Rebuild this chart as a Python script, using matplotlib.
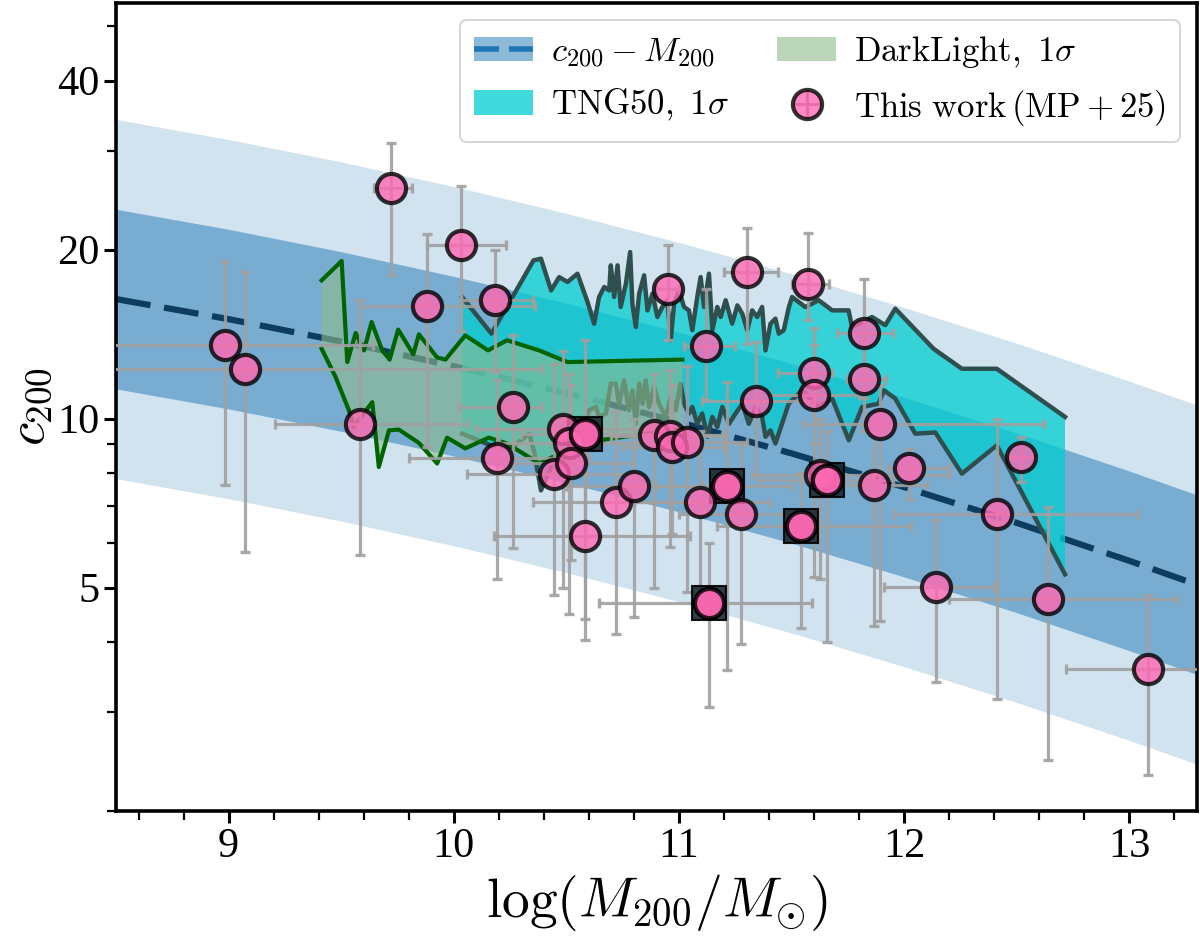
import numpy as np
import matplotlib
matplotlib.use('Agg')
import matplotlib.pyplot as plt
from matplotlib.patches import Patch
from matplotlib.lines import Line2D
from matplotlib.ticker import FixedLocator, FixedFormatter, NullFormatter

plt.rcParams['font.family'] = 'serif'
plt.rcParams['font.serif'] = ['Liberation Serif', 'DejaVu Serif']
plt.rcParams['mathtext.fontset'] = 'cm'

# ---------------- c200 - M200 relation ----------------
rel_logm = [8.5, 9.0, 9.5, 10.0, 10.5, 11.0, 11.5, 12.0, 12.5, 13.0, 13.3]
rel_c = [16.33, 15.04, 13.72, 12.40, 11.11, 9.86, 8.67, 7.55, 6.52, 5.58, 5.06]
rel_scatter_dex = 0.16

# ---------------- TNG50 1-sigma envelope ----------------
tng_up_logm = [10.037, 10.167, 10.354, 10.387, 10.432, 10.468, 10.505, 10.549, 10.594, 10.623,
               10.645, 10.668, 10.690, 10.697, 10.712, 10.727, 10.741, 10.764, 10.783, 10.793,
               10.808, 10.823, 10.845, 10.860, 10.882, 10.904, 10.926, 10.948, 10.963, 10.978,
               11.000, 11.022, 11.044, 11.059, 11.081, 11.096, 11.111, 11.133, 11.148, 11.170,
               11.185, 11.207, 11.236, 11.259, 11.281, 11.303, 11.325, 11.347, 11.369, 11.384,
               11.406, 11.428, 11.443, 11.465, 11.488, 11.502, 11.561, 11.620, 11.680, 11.753,
               11.768, 11.857, 11.916, 11.960, 12.130, 12.256, 12.411, 12.714]
tng_up_c = [16.46, 14.17, 19.14, 19.27, 16.92, 17.87, 17.51, 18.12, 16.13, 14.76,
            16.47, 17.16, 16.92, 18.75, 16.47, 18.75, 15.81, 17.39, 19.80, 16.02,
            14.56, 16.69, 18.00, 15.59, 16.69, 15.17, 15.81, 16.25, 13.79, 16.02,
            16.92, 15.81, 15.59, 14.37, 16.47, 17.87, 15.81, 18.12, 14.37, 15.81,
            15.17, 16.25, 14.76, 15.91, 15.38, 14.37, 15.59, 15.17, 15.81, 13.23,
            14.76, 15.07, 14.17, 14.37, 15.81, 16.47, 15.80, 16.25, 15.59, 15.59,
            14.56, 15.17, 14.67, 15.70, 13.32, 12.27, 12.27, 10.07]
tng_lo_logm = [10.037, 10.165, 10.260, 10.335, 10.357, 10.387, 10.450, 10.500, 10.572, 10.601,
               10.631, 10.645, 10.675, 10.697, 10.719, 10.734, 10.756, 10.778, 10.793, 10.808,
               10.823, 10.838, 10.852, 10.867, 10.889, 10.911, 10.941, 10.963, 10.985, 11.007,
               11.022, 11.044, 11.059, 11.081, 11.103, 11.126, 11.148, 11.170, 11.192, 11.222,
               11.251, 11.281, 11.310, 11.340, 11.369, 11.384, 11.406, 11.428, 11.487, 11.546,
               11.620, 11.680, 11.754, 11.813, 11.886, 11.910, 11.960, 12.049, 12.138, 12.256,
               12.411, 12.714]
tng_lo_c = [9.40, 8.96, 8.90, 9.40, 8.72, 7.45, 8.50, 8.60, 9.66, 10.35,
            10.49, 10.07, 10.21, 11.54, 11.54, 10.63, 11.70, 10.35, 11.23, 9.79,
            11.54, 10.63, 11.70, 10.49, 11.38, 10.63, 10.07, 10.93, 10.35, 11.54,
            10.63, 10.21, 10.49, 9.79, 10.21, 9.28, 10.07, 9.66, 10.49, 9.79,
            10.21, 10.63, 9.79, 10.49, 10.07, 9.28, 9.53, 9.03, 10.63, 11.23,
            10.49, 10.86, 9.15, 10.49, 10.63, 11.23, 10.86, 9.40, 9.45, 7.98,
            8.96, 5.28]

# ---------------- DarkLight 1-sigma envelope ----------------
dl_up_logm = [9.413, 9.502, 9.527, 9.564, 9.601, 9.635, 9.682, 9.715, 9.753, 9.820,
              9.845, 9.926, 9.963, 10.051, 10.152, 10.236, 10.379, 10.505, 11.015]
dl_up_c = [17.63, 19.09, 12.61, 14.21, 13.23, 14.86, 13.23, 12.74, 14.41, 13.02,
           14.13, 12.85, 12.74, 14.07, 13.23, 13.79, 13.23, 12.61, 12.74]
dl_lo_logm = [9.413, 9.475, 9.534, 9.555, 9.638, 9.667, 9.712, 9.756, 9.845, 9.926,
              9.970, 10.051, 10.155, 10.236, 10.379, 10.438, 10.645, 10.808, 11.015]
dl_lo_c = [13.32, 11.86, 10.35, 9.66, 10.70, 8.20, 9.53, 9.56, 9.05, 8.32,
           9.25, 8.85, 9.25, 9.03, 8.32, 8.54, 9.15, 9.34, 9.60]

# ---------------- This work (MP+25) ----------------
obs_logm = [8.983, 9.073, 9.583, 9.723, 9.882, 10.032, 10.184, 10.192, 10.261, 10.443,
            10.483, 10.512, 10.520, 10.581, 10.582, 10.722, 10.800, 10.887, 10.958, 10.970,
            11.035, 10.953, 11.093, 11.121, 11.133, 11.213, 11.273, 11.303, 11.343, 11.542,
            11.573, 11.598, 11.598, 11.628, 11.655, 11.823, 11.823, 11.864, 11.892, 12.023,
            12.140, 12.411, 12.520, 12.640, 13.083]
obs_c = [13.5, 12.27, 9.77, 25.7, 15.85, 20.4, 16.25, 8.52, 10.49, 7.98,
         9.60, 9.03, 8.32, 9.37, 6.17, 7.09, 7.60, 9.34, 9.31, 8.91,
         9.09, 17.04, 7.09, 13.46, 4.69, 7.60, 6.77, 18.24, 10.74, 6.45,
         17.40, 12.06, 11.00, 7.95, 7.76, 14.20, 11.77, 7.61, 9.79, 8.15,
         5.01, 6.76, 8.53, 4.78, 3.58]
obs_c_lo = [7.61, 5.79, 5.71, 18.0, 8.9, 14.3, 12.1, 5.19, 5.89, 4.85,
            5.0, 4.49, 5.59, 4.4, 4.03, 4.14, 4.44, 5.0, 5.9, 6.24,
            4.92, 13.8, 4.6, 10.78, 3.07, 3.56, 3.97, 13.6, 7.98, 4.23,
            14.97, 9.0, 5.22, 5.19, 4.0, 10.9, 9.5, 4.27, 4.36, 7.2,
            3.4, 3.16, 7.71, 2.47, 2.32]
obs_c_hi = [19.06, 18.24, 16.25, 31.0, 21.35, 26.0, 19.94, 11.7, 14.07, 12.5,
            13.2, 12.0, 11.5, 13.8, 9.0, 10.3, 10.0, 12.0, 12.2, 11.5,
            12.4, 20.4, 9.5, 17.0, 6.0, 11.6, 9.0, 21.9, 13.7, 8.0,
            21.4, 14.5, 13.5, 10.0, 9.5, 17.76, 13.8, 9.5, 11.5, 8.84,
            6.6, 10.0, 9.28, 6.97, 4.85]
obs_logm_lo = [8.33, 7.76, 9.206, 9.645, 9.583, 9.882, 10.03, 9.80, 10.025, 10.06,
               10.10, 10.20, 10.25, 10.30, 10.18, 10.35, 10.50, 10.60, 10.70, 10.75,
               10.80, 10.90, 10.80, 11.02, 10.645, 10.90, 11.00, 11.20, 11.10, 11.17,
               11.50, 11.44, 11.40, 11.325, 11.35, 11.70, 11.745, 11.60, 11.55, 11.93,
               11.91, 11.953, 12.47, 12.20, 12.72]
obs_logm_hi = [9.64, 10.39, 10.062, 9.815, 10.36, 10.232, 10.35, 10.60, 10.39, 10.80,
               10.90, 10.85, 10.80, 10.90, 11.05, 11.10, 11.10, 11.20, 11.20, 11.20,
               11.30, 11.00, 11.40, 11.25, 11.59, 11.50, 11.60, 11.44, 11.60, 12.03,
               11.665, 11.68, 11.80, 12.20, 11.95, 11.95, 11.92, 12.10, 12.62, 12.20,
               12.40, 13.04, 12.57, 13.21, 13.45]
obs_flagged = [False] * 45
for i in (13, 24, 25, 29, 34):
    obs_flagged[i] = True

x_ticks = [9, 10, 11, 12, 13]
y_ticks = [5, 10, 20, 40]
y_minor = [2, 3, 4, 6, 7, 8, 9, 30, 50]

# ---------------- figure ----------------
fig = plt.figure(figsize=(12, 9.39), dpi=100)
ax = fig.add_axes([116 / 1200, 1 - 811 / 939, (1197 - 116) / 1200, (811 - 3) / 939])
ax.set_yscale('log')

C0 = '#1f77b4'
rl = np.array(rel_logm)
rc = np.array(rel_c)
f2 = 10 ** (2 * rel_scatter_dex)
f1 = 10 ** rel_scatter_dex
ax.fill_between(rl, rc / f2, rc * f2, color=C0, alpha=0.2, lw=0, zorder=1)
ax.fill_between(rl, rc / f1, rc * f1, color=C0, alpha=0.5, lw=0, zorder=1.1)
ax.plot(rl, rc, color='#0e3c61', lw=4.5, dashes=(5.6, 2.2), zorder=2)

# TNG50
ax.fill(np.concatenate([tng_up_logm, tng_lo_logm[::-1]]),
        np.concatenate([tng_up_c, tng_lo_c[::-1]]),
        color='darkturquoise', alpha=0.75, lw=0, zorder=3)
ax.plot(tng_up_logm, tng_up_c, color='darkslategray', lw=3.2, zorder=3.1)
ax.plot(tng_lo_logm, tng_lo_c, color='darkslategray', lw=3.2, zorder=3.1)

# DarkLight
ax.fill(np.concatenate([dl_up_logm, dl_lo_logm[::-1]]),
        np.concatenate([dl_up_c, dl_lo_c[::-1]]),
        color='darkseagreen', alpha=0.6, lw=0, zorder=4)
ax.plot(dl_up_logm, dl_up_c, color='darkgreen', lw=3.0, zorder=4.1)
ax.plot(dl_lo_logm, dl_lo_c, color='darkgreen', lw=3.0, zorder=4.1)

# data
ox = np.array(obs_logm)
oc = np.array(obs_c)
yerr = [oc - np.array(obs_c_lo), np.array(obs_c_hi) - oc]
xerr = [ox - np.array(obs_logm_lo), np.array(obs_logm_hi) - ox]
ax.errorbar(ox, oc, xerr=xerr, yerr=yerr, fmt='none', ecolor='#a0a0a0', alpha=0.9,
            elinewidth=2.3, capsize=3.8, capthick=2.4, zorder=5)
fl = np.array(obs_flagged)
ax.plot(ox[fl], oc[fl], 's', ms=24, mfc='#1c2833', mec='k', mew=1.5, alpha=0.9,
        ls='none', zorder=6)
ax.plot(ox, oc, 'o', ms=21, mfc='hotpink', mec='k', mew=3, alpha=0.8, ls='none', zorder=7)
ax.plot(ox[fl], oc[fl], 'o', ms=21, mfc='hotpink', mec='k', mew=3, alpha=0.75,
        ls='none', zorder=7.1)

# axes
ax.set_xlim(8.5, 13.3)
ax.set_ylim(2, 55)
ax.xaxis.set_major_locator(FixedLocator(x_ticks))
ax.xaxis.set_minor_locator(FixedLocator(np.arange(8.6, 13.3, 0.2)))
ax.yaxis.set_major_locator(FixedLocator(y_ticks))
ax.yaxis.set_major_formatter(FixedFormatter([str(v) for v in y_ticks]))
ax.yaxis.set_minor_locator(FixedLocator(y_minor))
ax.yaxis.set_minor_formatter(NullFormatter())
ax.tick_params(which='major', length=8.5, width=2.2, labelsize=30.5, direction='out')
ax.tick_params(which='minor', length=6.5, width=1.6, direction='out')
for s in ax.spines.values():
    s.set_linewidth(2.6)

ax.set_xlabel(r'$\log(M_{200}/M_{\odot})$', fontsize=40, labelpad=4)
ax.set_ylabel(r'$c_{200}$', fontsize=38)
ax.yaxis.set_label_coords(-0.057, 0.5)

# legend
h_rel = (Patch(facecolor=C0, alpha=0.5, lw=0),
         Line2D([], [], color=C0, lw=4, dashes=(4.5, 1.8)))
h_tng = Patch(facecolor='darkturquoise', alpha=0.75, lw=0)
h_dl = Patch(facecolor='darkseagreen', alpha=0.6, lw=0)
h_obs = (Line2D([], [], marker='+', ms=20, color='gray', mew=2, ls='none'),
         Line2D([], [], marker='o', ms=21, mfc='hotpink', mec='k', mew=3, alpha=0.8, ls='none'))
leg = ax.legend([h_rel, h_tng, h_dl, h_obs],
                [r'$c_{200}-M_{200}$', r'$\rm TNG50,\ 1\sigma$',
                 r'$\rm DarkLight,\ 1\sigma$', r'$\rm This\ work\,(MP+25)$'],
                loc='upper right', ncol=2, fontsize=25, handlelength=1.7,
                columnspacing=1.4, handletextpad=0.5, frameon=True)
leg.get_frame().set_edgecolor('#cccccc')
leg.get_frame().set_linewidth(1.5)

fig.savefig('out.png', dpi=100)
